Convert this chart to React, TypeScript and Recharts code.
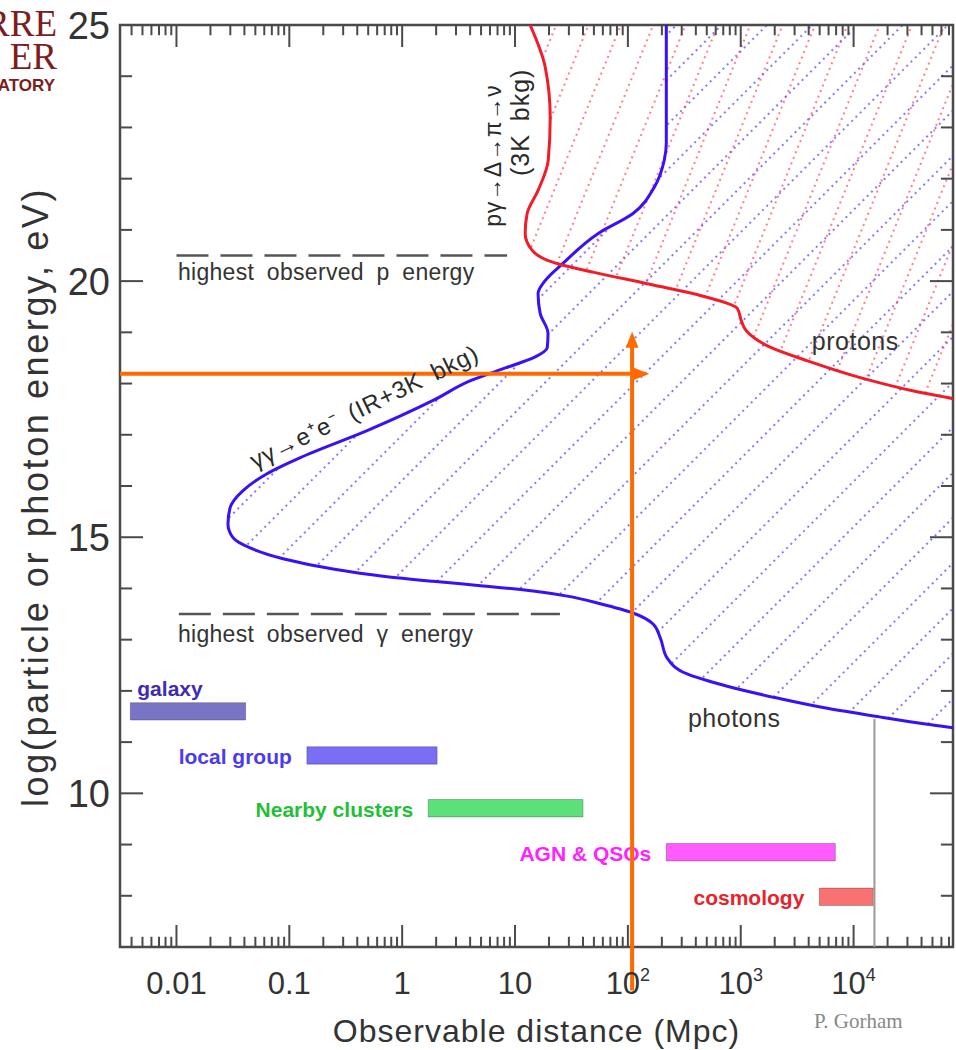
import React from 'react';
import {
  ComposedChart,
  XAxis,
  YAxis,
  Area,
  Line,
  ReferenceLine,
  ReferenceArea,
  ReferenceDot,
} from 'recharts';

const FONT = '"Liberation Sans", Arial, Helvetica, sans-serif';
const SERIF = '"Liberation Serif", "Times New Roman", serif';
const INK = '#333';
const FRAME = '#4a4a4a';

const X_MIN = 0.00316;
const X_MAX = 76000;
const Y_MIN = 7;
const Y_MAX = 25;

const xTicks = [0.01, 0.1, 1, 10, 100, 1000, 10000];
const xTickLabels = ['0.01', '0.1', '1', '10', '10^2', '10^3', '10^4'];
const yTicks = [10, 15, 20, 25];

// photon horizon: log10(E/eV) vs distance (Mpc), read top to bottom
const photonEnergy = [
  25, 22.69, 22.36, 21.83, 21.32, 20.93, 20.35, 20.01, 19.76, 19.37, 18.98,
  18.7, 18.51, 18.31, 18.06, 17.67, 17.08, 16.55, 16.24, 15.91, 15.57, 15.26,
  14.99, 14.79, 14.58, 14.38, 14.24, 14.14, 14.05, 13.95, 13.85, 13.7, 13.52,
  13.3, 13.03, 12.64, 12.33, 12.09, 11.86, 11.66, 11.5, 11.35, 11.27, 11.11,
];
const photonDistance = [
  219, 219, 210, 171, 111, 54.6, 26.7, 18.5, 16.0, 16.7, 19.6, 19.3, 14.8,
  8.33, 4.08, 1.88, 0.489, 0.124, 0.0634, 0.0389, 0.0298, 0.0286, 0.0317,
  0.0449, 0.088, 0.244, 0.677, 1.88, 5.21, 14.5, 29.0, 56.9, 111, 168, 194,
  223, 335, 759, 2107, 5850, 16200, 45000, 83000, 200000,
];

// proton horizon (GZK)
const protonEnergy = [
  25, 24.18, 23.2, 22.36, 21.77, 21.32, 20.93, 20.6, 20.4, 20.31, 20.17, 19.95,
  19.72, 19.58, 19.47, 19.23, 19.03, 18.7, 18.45, 18.12, 17.86, 17.7, 17.5,
];
const protonDistance = [
  13.6, 18.5, 20.5, 19.7, 16.0, 12.8, 12.3, 14.2, 19.7, 26.7, 50.2, 148, 437,
  729, 931, 1011, 1120, 1866, 3810, 11250, 33200, 78300, 180000,
];

// distance ranges of source classes
const sourceNames = ['galaxy', 'local group', 'Nearby clusters', 'AGN & QSOs', 'cosmology'];
const sourceFrom = [0.0039, 0.143, 1.7, 219, 4970];
const sourceTo = [0.041, 2.04, 40, 6890, 14960];
const sourceEnergy = [11.6, 10.74, 9.71, 8.85, 7.98];

const sourceFill = ['#7a74c6', '#7b6ef6', '#5be07a', '#ff5cff', '#f87272'];
const sourceInk = ['#3d2bb5', '#4a3af0', '#22c037', '#ff22ff', '#e8232b'];

const pLimitEnergy = 20.5;
const pLimitTo = 8.5;
const gammaLimitEnergy = 13.5;
const gammaLimitTo = 25;
const hubbleDistance = 15300;
const hubbleTop = 11.45;

// orange overlay arrows
const arrowEnergy = 18.19;
const arrowEnergyTo = 140;
const arrowDistance = 109;
const arrowDistanceFrom = 6.15;
const arrowDistanceTo = 18.92;

const photonData = photonEnergy.map((e, i) => ({ e, d: photonDistance[i] }));
const protonData = protonEnergy.map((e, i) => ({ e, d: protonDistance[i] }));

const BAR_HALF = 0.17;

const minorX: number[] = [];
for (let p = -3; p <= 4; p++) {
  for (let m = 1; m <= 9; m++) {
    const v = m * Math.pow(10, p);
    if (v > X_MIN && v < X_MAX) minorX.push(v);
  }
}
const minorY: number[] = [];
for (let v = 8; v <= 24; v++) minorY.push(v);

const XTick = (props: any) => {
  const { x, y, payload } = props;
  const idx = xTicks.indexOf(payload.value);
  const label = idx >= 0 ? xTickLabels[idx] : String(payload.value);
  const [base, sup] = label.split('^');
  return (
    <text x={x} y={y + 47} textAnchor="middle" fontSize={31} fill={INK} fontFamily={FONT}>
      {base}
      {sup ? (
        <tspan dy={-13} fontSize={18}>
          {sup}
        </tspan>
      ) : null}
    </text>
  );
};

const YTick = (props: any) => {
  const { x, y, payload } = props;
  return (
    <text x={x - 10} y={y + 14} textAnchor="end" fontSize={38} fill={INK} fontFamily={FONT}>
      {payload.value}
    </text>
  );
};

const xTitle = (p: any) => {
  const vb = p.viewBox;
  return (
    <text
      x={vb.x + vb.width / 2}
      y={vb.y + vb.height - 8}
      textAnchor="middle"
      fontSize={32}
      letterSpacing={1}
      fill={INK}
      fontFamily={FONT}
    >
      Observable distance (Mpc)
    </text>
  );
};

const yTitle = (p: any) => {
  const vb = p.viewBox;
  const cx = vb.x + 35;
  const cy = vb.y + vb.height / 2 + 11;
  return (
    <text
      x={cx}
      y={cy}
      transform={`rotate(-90 ${cx} ${cy})`}
      textAnchor="middle"
      dominantBaseline="central"
      fontSize={36}
      letterSpacing={2.6}
      fill={INK}
      fontFamily={FONT}
    >
      log(particle or photon energy, eV)
    </text>
  );
};

type NoteOpts = {
  size?: number;
  color?: string;
  angle?: number;
  anchor?: 'start' | 'middle' | 'end';
  spacing?: number;
  words?: number;
};

const note = (key: string, x: number, y: number, text: string, o: NoteOpts = {}) => (
  <ReferenceDot
    key={key}
    x={x}
    y={y}
    r={0}
    fill="none"
    stroke="none"
    ifOverflow="visible"
    label={(p: any) => {
      const vb = p.viewBox || { x: 0, y: 0, width: 0, height: 0 };
      const cx = vb.x + (vb.width || 0) / 2;
      const cy = vb.y + (vb.height || 0) / 2;
      return (
        <text
          x={cx}
          y={cy}
          textAnchor={o.anchor ?? 'middle'}
          dominantBaseline="central"
          fontSize={o.size ?? 24}
          fill={o.color ?? INK}
          fontFamily={FONT}
          letterSpacing={o.spacing ?? 0}
          wordSpacing={o.words ?? 0}
          transform={o.angle ? `rotate(${o.angle} ${cx} ${cy})` : undefined}
        >
          {text}
        </text>
      );
    }}
  />
);

export default function App() {
  return (
    <div style={{ position: 'absolute', left: 0, top: 0, width: 956, height: 1050, background: '#fff' }}>
      <ComposedChart
        width={956}
        height={1050}
        layout="vertical"
        margin={{ top: 25, right: 3, bottom: 0, left: 0 }}
      >
        <defs>
          <pattern id="hatchBlue" patternUnits="userSpaceOnUse" width={30} height={32} patternTransform="rotate(-45)">
            <line x1={0} y1={16} x2={30} y2={16} stroke="#5a4cff" strokeOpacity={0.75} strokeWidth={2.2} strokeDasharray="2 4" />
          </pattern>
          <pattern id="hatchRed" patternUnits="userSpaceOnUse" width={30} height={30} patternTransform="rotate(-68)">
            <line x1={0} y1={15} x2={30} y2={15} stroke="#ff3a4a" strokeOpacity={0.65} strokeWidth={2.2} strokeDasharray="2 4" />
          </pattern>
          <marker id="arrowHead" viewBox="0 0 10 10" refX={7} refY={5} markerWidth={4} markerHeight={4} orient="auto">
            <path d="M0,1 L10,5 L0,9 z" fill="#ff6a00" />
          </marker>
        </defs>

        <XAxis
          type="number"
          scale="log"
          domain={[X_MIN, X_MAX]}
          allowDataOverflow
          ticks={xTicks}
          interval={0}
          tick={XTick}
          tickLine={false}
          axisLine={false}
          tickSize={0}
          tickMargin={0}
          height={103}
          label={xTitle}
        />
        <YAxis
          type="number"
          dataKey="e"
          domain={[Y_MIN, Y_MAX]}
          reversed
          allowDataOverflow
          ticks={yTicks}
          interval={0}
          tick={YTick}
          tickLine={false}
          axisLine={false}
          tickSize={0}
          tickMargin={0}
          width={120}
          label={yTitle}
        />

        <Area
          data={photonData}
          dataKey="d"
          type="monotoneY"
          baseValue="dataMax"
          stroke="none"
          fill="url(#hatchBlue)"
          fillOpacity={1}
          isAnimationActive={false}
        />
        <Area
          data={protonData}
          dataKey="d"
          type="monotoneY"
          baseValue="dataMax"
          stroke="none"
          fill="url(#hatchRed)"
          fillOpacity={1}
          isAnimationActive={false}
        />
        <Line
          data={photonData}
          dataKey="d"
          type="monotoneY"
          stroke="#3a10f5"
          strokeWidth={3}
          dot={false}
          activeDot={false}
          isAnimationActive={false}
        />
        <Line
          data={protonData}
          dataKey="d"
          type="monotoneY"
          stroke="#f01c28"
          strokeWidth={3}
          dot={false}
          activeDot={false}
          isAnimationActive={false}
        />

        {/* frame */}
        <ReferenceArea x1={X_MIN} x2={X_MAX} y1={Y_MIN} y2={Y_MAX} fill="none" stroke={FRAME} strokeWidth={2.5} ifOverflow="visible" />

        {/* inward ticks on all four sides */}
        {minorX.map((v) => {
          const major = Math.abs(Math.log10(v) - Math.round(Math.log10(v))) < 1e-9;
          const len = major ? 0.43 : 0.2;
          return [
            <ReferenceLine key={`b${v}`} segment={[{ x: v, y: Y_MIN }, { x: v, y: Y_MIN + len }]} stroke={FRAME} strokeWidth={2} ifOverflow="visible" />,
            <ReferenceLine key={`t${v}`} segment={[{ x: v, y: Y_MAX }, { x: v, y: Y_MAX - len }]} stroke={FRAME} strokeWidth={2} ifOverflow="visible" />,
          ];
        })}
        {minorY.map((v) => {
          const f = v % 5 === 0 ? 1.6 : 1.28;
          return [
            <ReferenceLine key={`l${v}`} segment={[{ x: X_MIN, y: v }, { x: X_MIN * f, y: v }]} stroke={FRAME} strokeWidth={2} ifOverflow="visible" />,
            <ReferenceLine key={`r${v}`} segment={[{ x: X_MAX / f, y: v }, { x: X_MAX, y: v }]} stroke={FRAME} strokeWidth={2} ifOverflow="visible" />,
          ];
        })}

        {/* highest observed energies */}
        <ReferenceLine segment={[{ x: 0.01, y: pLimitEnergy }, { x: pLimitTo, y: pLimitEnergy }]} stroke="#555" strokeWidth={2.5} strokeDasharray="32 12" ifOverflow="visible" />
        <ReferenceLine segment={[{ x: 0.0105, y: gammaLimitEnergy }, { x: gammaLimitTo, y: gammaLimitEnergy }]} stroke="#555" strokeWidth={2.5} strokeDasharray="32 12" ifOverflow="visible" />

        {/* Hubble distance */}
        <ReferenceLine segment={[{ x: hubbleDistance, y: Y_MIN }, { x: hubbleDistance, y: hubbleTop }]} stroke="#999" strokeWidth={2} ifOverflow="visible" />

        {/* source class ranges */}
        {sourceNames.map((name, i) => (
          <ReferenceArea
            key={name}
            x1={sourceFrom[i]}
            x2={sourceTo[i]}
            y1={sourceEnergy[i] - BAR_HALF}
            y2={sourceEnergy[i] + BAR_HALF}
            fill={sourceFill[i]}
            fillOpacity={1}
            stroke="rgba(0,0,0,0.25)"
            strokeWidth={1}
            ifOverflow="visible"
            label={(p: any) => {
              const vb = p.viewBox;
              const above = i === 0;
              return (
                <text
                  x={above ? vb.x + 7 : vb.x - 15}
                  y={above ? vb.y - 14 : vb.y + vb.height / 2 + 1}
                  textAnchor={above ? 'start' : 'end'}
                  dominantBaseline="central"
                  fontSize={21}
                  fontWeight="bold"
                  fill={sourceInk[i]}
                  fontFamily={FONT}
                >
                  {name}
                </text>
              );
            }}
          />
        ))}

        {note('pLimit', 0.0103, 20.17, 'highest observed p energy', { anchor: 'start', size: 23, words: 6, spacing: 0.3 })}
        {note('gLimit', 0.0103, 13.11, 'highest observed γ energy', { anchor: 'start', size: 23, words: 6, spacing: 0.3 })}
        {note('protons', 10350, 18.84, 'protons', { size: 25, spacing: 0.5 })}
        {note('photons', 875, 11.47, 'photons', { size: 25, spacing: 0.5 })}
        {note('pair', 0.46, 17.55, 'γγ→e⁺e⁻ (IR+3K bkg)', { angle: -26, size: 24, words: 5, spacing: 0.8, color: '#2a2a2a' })}
        {note('pgamma', 6.4, 22.45, 'pγ→Δ→π→ν', { angle: -90, size: 23, spacing: 0.8, color: '#2a2a2a' })}
        {note('threeK', 11.1, 23.1, '(3K bkg)', { angle: -90, size: 25, words: 5, spacing: 1, color: '#2a2a2a' })}

        {/* orange overlay arrows */}
        <ReferenceLine
          segment={[{ x: X_MIN, y: arrowEnergy }, { x: arrowEnergyTo, y: arrowEnergy }]}
          stroke="#ff6a00"
          strokeWidth={4}
          markerEnd="url(#arrowHead)"
          ifOverflow="visible"
        />
        <ReferenceLine
          segment={[{ x: arrowDistance, y: arrowDistanceFrom }, { x: arrowDistance, y: arrowDistanceTo }]}
          stroke="#ff6a00"
          strokeWidth={4}
          markerEnd="url(#arrowHead)"
          ifOverflow="visible"
        />
      </ComposedChart>

      <svg width={956} height={1050} style={{ position: 'absolute', left: 0, top: 0, pointerEvents: 'none' }}>
        <text x={57} y={36} textAnchor="end" fontSize={37} fill="#7d1d1d" fontFamily={SERIF}>
          RRE
        </text>
        <text x={57} y={69} textAnchor="end" fontSize={37} fill="#7d1d1d" fontFamily={SERIF}>
          ER
        </text>
        <text x={55} y={91} textAnchor="end" fontSize={17} fontWeight="bold" fill="#7d1d1d" fontFamily={FONT}>
          ATORY
        </text>
        <text x={814} y={1028} fontSize={21} fill="#888" fontFamily={SERIF}>
          P. Gorham
        </text>
      </svg>
    </div>
  );
}
